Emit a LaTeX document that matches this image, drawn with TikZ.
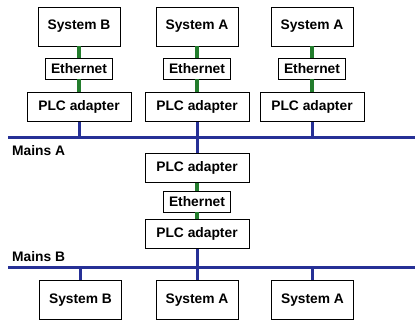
\documentclass[tikz,border=0pt]{standalone}
\usepackage{fontspec}
\setmainfont{Liberation Sans}
\usepackage{tikz}
\usetikzlibrary{calc}
\definecolor{blurete}{RGB}{38,48,150}
\definecolor{verdeeth}{RGB}{35,125,45}

\begin{document}
\begin{tikzpicture}[x = 1pt, y = -1pt,
    scatola/.style = {draw, line width = 0.8pt, inner sep = 0pt, font = \bfseries\fontsize{13.8}{15}\selectfont},
    sistema/.style = {scatola, minimum width = 82pt, minimum height = 39pt},
    ethbox/.style = {scatola, minimum width = 67pt, minimum height = 21pt},
    plc/.style = {scatola, minimum width = 104pt, minimum height = 29pt},
    rete/.style = {blurete, line width = 3pt},
    cavo/.style = {verdeeth, line width = 3.2pt},
    etichetta/.style = {anchor = west, inner sep = 0pt, font = \bfseries\fontsize{13.8}{15}\selectfont}]
    \useasboundingbox (0,0) rectangle (415,322);
    % Parametri
    \pgfmathsetmacro{\yA}{137}
    \pgfmathsetmacro{\yB}{267}
    % Linee di rete
    \coordinate (mainsAw) at (8,\yA);
    \coordinate (mainsAe) at (415,\yA);
    \coordinate (mainsBw) at (8,\yB);
    \coordinate (mainsBe) at (415,\yB);
    \draw[rete] (mainsAw) -- (mainsAe);
    \draw[rete] (mainsBw) -- (mainsBe);
    \node[etichetta] (labelA) at (12,151) {Mains A};
    \node[etichetta] (labelB) at (12,257) {Mains B};
    % Sistemi sopra la rete A
    \foreach \i/\x/\s in {1/79/B, 2/197/A, 3/312/A} {
        \node[sistema] (sys\i) at (\x,26.5) {System \s};
        \node[ethbox] (eth\i) at (\x,68.5) {Ethernet};
        \node[plc] (plc\i) at (\x,107) {PLC adapter};
        \draw[cavo] (sys\i) -- (eth\i);
        \draw[cavo] (eth\i) -- (plc\i);
        \draw[rete] (plc\i) -- (plc\i |- mainsAw);
    }
    % Ponte tra le due reti
    \node[plc] (ponteA) at (197,168) {PLC adapter};
    \node[ethbox] (ponteEth) at (197,201.5) {Ethernet};
    \node[plc] (ponteB) at (197,234) {PLC adapter};
    \draw[rete] (ponteA |- mainsAw) -- (ponteA);
    \draw[cavo] (ponteA) -- (ponteEth);
    \draw[cavo] (ponteEth) -- (ponteB);
    \draw[rete] (ponteB) -- (ponteB |- mainsBw);
    % Sistemi sotto la rete B
    \foreach \i/\x/\s in {1/80.5/B, 2/197/A, 3/312.5/A} {
        \node[sistema] (basso\i) at (\x,300) {System \s};
        \draw[rete] (basso\i |- mainsBw) -- (basso\i);
    }
\end{tikzpicture}
\end{document}
